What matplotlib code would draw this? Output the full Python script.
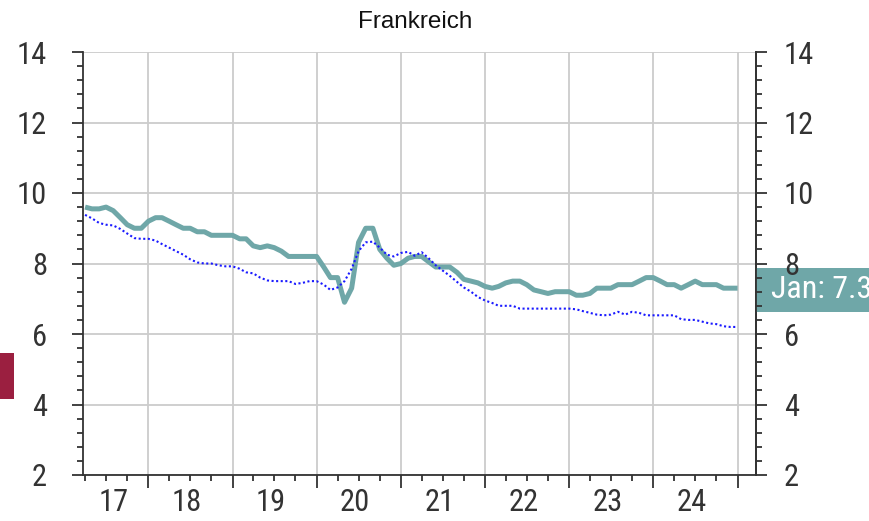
import matplotlib
matplotlib.use("Agg")
import matplotlib.pyplot as plt
import matplotlib.dates as mdates
import matplotlib.transforms as mtrans
from matplotlib.patches import Rectangle
from matplotlib.ticker import MultipleLocator
import pandas as pd

plt.rcParams['font.family'] = ['Roboto Condensed', 'Liberation Sans', 'DejaVu Sans']

# ---- data ----
start_month = "2017-04-01"
end_month = "2025-01-01"
title = "Frankreich"
year_labels = ["17", "18", "19", "20", "21", "22", "23", "24"]
last_label = "Jan: 7.3"

france = [
    9.6, 9.55, 9.55, 9.6, 9.5, 9.3, 9.1, 9.0, 9.0,                  # 2017 Apr-Dec
    9.2, 9.3, 9.3, 9.2, 9.1, 9.0, 9.0, 8.9, 8.9, 8.8, 8.8, 8.8,     # 2018
    8.8, 8.7, 8.7, 8.5, 8.45, 8.5, 8.45, 8.35, 8.2, 8.2, 8.2, 8.2,  # 2019
    8.2, 7.9, 7.6, 7.6, 6.9, 7.3, 8.6, 9.0, 9.0, 8.4, 8.15, 7.95,   # 2020
    8.0, 8.15, 8.2, 8.2, 8.05, 7.9, 7.9, 7.9, 7.75, 7.55, 7.5, 7.45,  # 2021
    7.35, 7.3, 7.35, 7.45, 7.5, 7.5, 7.4, 7.25, 7.2, 7.15, 7.2, 7.2,  # 2022
    7.2, 7.1, 7.1, 7.15, 7.3, 7.3, 7.3, 7.4, 7.4, 7.4, 7.5, 7.6,    # 2023
    7.6, 7.5, 7.4, 7.4, 7.3, 7.4, 7.5, 7.4, 7.4, 7.4, 7.3, 7.3,     # 2024
    7.3,                                                            # 2025 Jan
]

comparison = [
    9.38, 9.28, 9.15, 9.1, 9.08, 8.98, 8.85, 8.72, 8.7,
    8.7, 8.65, 8.55, 8.45, 8.35, 8.25, 8.12, 8.03, 8.0, 8.0, 7.95, 7.92,
    7.92, 7.85, 7.75, 7.72, 7.6, 7.52, 7.5, 7.5, 7.5, 7.42, 7.45, 7.5,
    7.5, 7.4, 7.25, 7.32, 7.5, 7.85, 8.35, 8.6, 8.62, 8.45, 8.25, 8.2,
    8.3, 8.33, 8.22, 8.32, 8.15, 7.95, 7.8, 7.65, 7.48, 7.32, 7.2, 7.05,
    6.95, 6.88, 6.8, 6.8, 6.8, 6.72, 6.72, 6.72, 6.72, 6.72, 6.72, 6.72,
    6.72, 6.7, 6.65, 6.6, 6.55, 6.53, 6.55, 6.63, 6.55, 6.63, 6.6, 6.53,
    6.53, 6.53, 6.53, 6.53, 6.42, 6.4, 6.4, 6.35, 6.3, 6.28, 6.22, 6.2,
    6.2,
]

dates = pd.date_range(start_month, end_month, freq="MS")

# ---- style ----
teal = "#6fa7a8"
blue = "#1a1aff"
dark = "#333333"
grid_c = "#cccccc"
FS = 22

W, H = 869, 521
fig = plt.figure(figsize=(W / 100, H / 100), dpi=100)
ax = fig.add_axes([83 / W, 1 - 475 / H, (756 - 83) / W, (475 - 52) / H])

ax.plot(dates, france, color=teal, lw=3.6, solid_capstyle="butt", zorder=3)
ax.plot(dates, comparison, color=blue, lw=1.5, linestyle=(0, (1, 1.2)), zorder=4)

ax.set_ylim(2, 14)
ax.set_xlim(pd.Timestamp("2017-03-23"), pd.Timestamp("2025-03-22"))

ax.yaxis.set_major_locator(MultipleLocator(2))
ax.yaxis.set_minor_locator(MultipleLocator(0.4))
ax.xaxis.set_major_locator(mdates.YearLocator())
ax.xaxis.set_minor_locator(mdates.MonthLocator(bymonth=[1, 4, 7, 10]))
ax.xaxis.set_major_formatter(plt.NullFormatter())

ax.grid(True, which="major", color=grid_c, lw=1.3, zorder=0)
ax.set_axisbelow(True)

ax.spines["top"].set_visible(False)
for s in ["left", "bottom", "right"]:
    ax.spines[s].set_color(dark)
    ax.spines[s].set_linewidth(1.3)

ax.tick_params(axis="y", which="major", direction="out", length=8, width=1.3,
               color=dark, labelsize=FS, labelcolor=dark, pad=18)
ax.tick_params(axis="y", which="minor", direction="out", length=4.5, width=1.3, color=dark)
ax.tick_params(axis="x", which="major", direction="out", length=9, width=1.3, color=dark)
ax.tick_params(axis="x", which="minor", direction="out", length=4, width=1.3, color=dark)

ax2 = ax.twinx()
ax2.set_ylim(ax.get_ylim())
ax2.yaxis.set_major_locator(MultipleLocator(2))
ax2.yaxis.set_minor_locator(MultipleLocator(0.4))
for s in ["top", "left", "bottom"]:
    ax2.spines[s].set_visible(False)
ax2.spines["right"].set_color(dark)
ax2.spines["right"].set_linewidth(1.3)
ax2.tick_params(axis="y", which="major", direction="out", length=8, width=1.3,
                color=dark, labelsize=FS, labelcolor=dark, pad=12)
ax2.tick_params(axis="y", which="minor", direction="out", length=4.5, width=1.3, color=dark)

# year labels centred on each year's data span
trans = mtrans.blended_transform_factory(ax.transData, ax.transAxes)
years = sorted(set(dates.year))
for yr, lab in zip(years, year_labels):
    d = dates[dates.year == yr]
    mid = mdates.date2num(d[0] + (d[-1] - d[0]) / 2)
    ax.annotate(lab, xy=(mid, 0), xycoords=trans, xytext=(0, -19.5),
                textcoords="offset points", ha="center", va="center",
                fontsize=FS, color=dark, annotation_clip=False)

# title
fig.text(415 / W, 1 - 22 / H, title, ha="center", va="center", fontsize=17.5,
         color="#111111", family=["Liberation Sans", "DejaVu Sans"])

# last-value label box
last = france[-1]
btrans = mtrans.blended_transform_factory(ax.transAxes, ax.transData)
ax.add_patch(Rectangle((1.0, last - 0.675), 0.25, 1.25, transform=btrans,
                       facecolor=teal, edgecolor="none", clip_on=False, zorder=5))
ax.annotate(last_label, xy=(1.0, last - 0.05), xycoords=btrans, xytext=(11, 0),
            textcoords="offset points", ha="left", va="center", fontsize=FS + 1,
            color="white", annotation_clip=False, zorder=6)

# marker at the left edge
fig.patches.append(Rectangle((0, 1 - 399 / H), 14 / W, 46 / H, transform=fig.transFigure,
                             facecolor="#9b1f40", edgecolor="none"))

fig.savefig("out.png", dpi=100)
